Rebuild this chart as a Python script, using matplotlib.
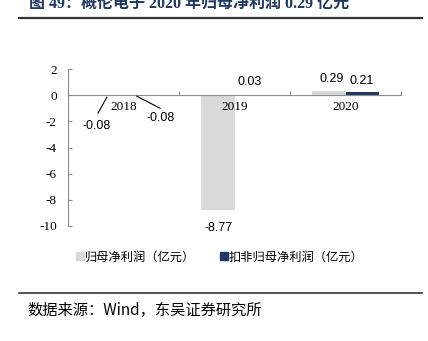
import matplotlib
matplotlib.use("Agg")
import matplotlib.pyplot as plt
import numpy as np
from matplotlib.patches import Patch

categories = ["2018", "2019", "2020"]
net_profit = [-0.08, -8.77, 0.29]
net_profit_deducted = [-0.08, 0.03, 0.21]
yticks = [2, 0, -2, -4, -6, -8, -10]
series_names = ["归母净利润（亿元）", "扣非归母净利润（亿元）"]
title = "图 49：概伦电子 2020 年归母净利润 0.29 亿元"
source = "数据来源：Wind，东吴证券研究所"

GRAY = "#D9D9D9"
NAVY = "#1B3A66"
AXC = "#8C8C8C"
SERIF = ["Liberation Serif", "Noto Sans CJK SC"]
SANS = ["Liberation Sans", "Noto Sans CJK SC"]
CJK = ["Noto Sans CJK SC", "Liberation Serif"]

fig = plt.figure(figsize=(4.28, 3.41), dpi=100)
ax = fig.add_axes([68/428, 1-226/341, (401-68)/428, (226-69)/341])

x = np.arange(len(categories))
w = 0.3
ax.bar(x - w/2, net_profit, w, color=GRAY, zorder=2)
ax.bar(x + w/2, net_profit_deducted, w, color=NAVY, zorder=2)
ax.set_axisbelow(False)

ax.set_xlim(-0.5, 2.5)
ax.set_ylim(-10, 2)
ax.set_yticks(yticks)
ax.set_yticklabels([str(t) for t in yticks], family=SERIF, fontsize=9.5)
ax.tick_params(axis="y", direction="in", length=3, color=AXC, pad=8)

ax.spines["top"].set_visible(False)
ax.spines["right"].set_visible(False)
ax.spines["left"].set_color(AXC)
ax.spines["bottom"].set_position(("data", 0))
ax.spines["bottom"].set_color(AXC)
ax.spines["bottom"].set_zorder(3)

ax.set_xticks([-0.5, 0.5, 1.5, 2.5])
ax.set_xticklabels([])
ax.tick_params(axis="x", which="major", direction="in", length=3, color=AXC)
ax.set_xticks(x, minor=True)
ax.set_xticklabels(categories, minor=True, family=SERIF, fontsize=9.5)
ax.tick_params(axis="x", which="minor", length=0, pad=4)

lab_kw = dict(family=SANS, fontsize=9, color="black", zorder=5)
# 2018 labels with leader lines
ax.plot([-0.149, -0.23], [-0.15, -1.37], color="black", lw=0.8, zorder=5)
ax.text(-0.24, -2.37, f"{net_profit[0]:.2f}", ha="center", va="center", **lab_kw)
ax.plot([0.12, 0.33], [-0.08, -1.0], color="black", lw=0.8, zorder=5)
ax.text(0.33, -1.76, f"{net_profit_deducted[0]:.2f}", ha="center", va="center", **lab_kw)
# 2019
ax.text(1 - w/2 + 0.01, net_profit[1] - 0.95, f"{net_profit[1]:.2f}", ha="center", va="top", **lab_kw)
ax.text(1 + w/2 - 0.01, net_profit_deducted[1] + 0.55, f"{net_profit_deducted[1]:.2f}",
        ha="center", va="bottom", **lab_kw)
# 2020
ax.text(2 - w/2 + 0.03, net_profit[2] + 0.45, f"{net_profit[2]:.2f}", ha="center", va="bottom", **lab_kw)
ax.text(2 + w/2, net_profit_deducted[2] + 0.45, f"{net_profit_deducted[2]:.2f}",
        ha="center", va="bottom", **lab_kw)

handles = [Patch(color=GRAY), Patch(color=NAVY)]
fig.legend(handles, series_names, loc="center left", bbox_to_anchor=(76/428, 1-257/341),
           ncol=2, frameon=False, handlelength=0.65, handleheight=0.65, handletextpad=0.1,
           columnspacing=2.0, borderaxespad=0, borderpad=0,
           prop={"family": CJK, "size": 8.8})

# title and rules
fig.text(29/428, 1-4/341, title, family=SERIF, fontsize=11.5, fontweight="bold",
         color="#1F3864", ha="left", va="center")
fig.add_artist(plt.Line2D([19/428, 422/428], [1-18/341, 1-18/341], color="#333333", lw=1.6))
fig.add_artist(plt.Line2D([19/428, 422/428], [1-293/341, 1-293/341], color="#333333", lw=1.2))
fig.text(27/428, 1-310/341, source, family=CJK, fontsize=11, color="black", ha="left", va="center")

fig.savefig("out.png", dpi=100)
